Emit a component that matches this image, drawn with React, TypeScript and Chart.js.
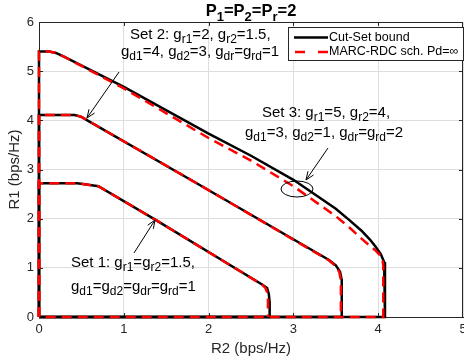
import React, { useEffect, useRef } from 'react';
import { Chart, registerables } from 'chart.js';

Chart.register(...registerables);

const FONT = "'Liberation Sans', Arial, Helvetica, sans-serif";
const INK = '#262626';

// Axis ranges / ticks
const xMin = 0;
const xMax = 5;
const yMin = 0;
const yMax = 6;

// Set 1 (g_r1=g_r2=1.5, g_d1=g_d2=g_dr=g_rd=1)
const set1CutR2 = [0, 0, 0.45, 0.58, 0.7, 1.38, 2.64, 2.69, 2.71, 2.72, 2.72, 0];
const set1CutR1 = [0, 2.72, 2.72, 2.69, 2.66, 1.97, 0.65, 0.59, 0.47, 0.3, 0, 0];
const set1MarcR2 = [0, 0, 0.45, 0.58, 0.7, 1.38, 2.63, 2.67, 2.69, 2.7, 2.7];
const set1MarcR1 = [0, 2.72, 2.72, 2.69, 2.66, 1.97, 0.66, 0.59, 0.5, 0.4, 0];

// Set 2 (g_r1=2, g_r2=1.5, g_d1=4, g_d2=3, g_dr=g_rd=1)
const set2CutR2 = [0, 0, 0.42, 0.5, 0.58, 1.89, 3.42, 3.5, 3.55, 3.57, 3.57, 0];
const set2CutR1 = [0, 4.11, 4.11, 4.07, 3.99, 2.69, 1.16, 1.05, 0.92, 0.75, 0, 0];
const set2MarcR2 = [0, 0, 0.42, 0.5, 0.58, 1.89, 3.42, 3.49, 3.54, 3.56, 3.56];
const set2MarcR1 = [0, 4.11, 4.11, 4.07, 3.99, 2.69, 1.15, 1.05, 0.92, 0.75, 0];

// Set 3 (g_r1=5, g_r2=4, g_d1=3, g_d2=1, g_dr=g_rd=2)
const set3CutR2 = [0, 0, 0.12, 0.2, 0.3, 1, 2, 2.5, 3, 3.5, 3.66, 3.8, 3.9, 3.97, 4.03, 4.07, 4.08, 4.08, 0];
const set3CutR1 = [0, 5.4, 5.4, 5.37, 5.29, 4.68, 3.73, 3.28, 2.79, 2.2, 1.97, 1.76, 1.58, 1.43, 1.28, 1.12, 1.0, 0, 0];
const set3MarcR2 = [0, 0, 0.12, 0.2, 0.3, 1, 2, 2.5, 3, 3.5, 3.66, 3.8, 3.9, 3.97, 4.02, 4.05, 4.06, 4.06, 0];
const set3MarcR1 = [0, 5.4, 5.4, 5.37, 5.29, 4.65, 3.64, 3.18, 2.66, 2.05, 1.82, 1.6, 1.45, 1.35, 1.26, 1.17, 1.05, 0, 0];

const titleText: [string, boolean][] = [['P', false], ['1', true], ['=P', false], ['2', true], ['=P', false], ['r', true], ['=2', false]];
const xLabel = 'R2 (bps/Hz)';
const yLabel = 'R1 (bps/Hz)';
const legendLabels = ['Cut-Set bound', 'MARC-RDC sch. Pd=\u221E'];

const set1Line1: [string, boolean][] = [['Set 1: g', false], ['r1', true], ['=g', false], ['r2', true], ['=1.5,', false]];
const set1Line2: [string, boolean][] = [['g', false], ['d1', true], ['=g', false], ['d2', true], ['=g', false], ['dr', true], ['=g', false], ['rd', true], ['=1', false]];
const set2Line1: [string, boolean][] = [['Set 2: g', false], ['r1', true], ['=2, g', false], ['r2', true], ['=1.5,', false]];
const set2Line2: [string, boolean][] = [['g', false], ['d1', true], ['=4, g', false], ['d2', true], ['=3, g', false], ['dr', true], ['=g', false], ['rd', true], ['=1', false]];
const set3Line1: [string, boolean][] = [['Set 3: g', false], ['r1', true], ['=5, g', false], ['r2', true], ['=4,', false]];
const set3Line2: [string, boolean][] = [['g', false], ['d1', true], ['=3, g', false], ['d2', true], ['=1, g', false], ['dr', true], ['=g', false], ['rd', true], ['=2', false]];

function pts(xs: number[], ys: number[]) {
  return xs.map((x, i) => ({ x, y: ys[i] }));
}

function drawRich(
  ctx: CanvasRenderingContext2D,
  segs: [string, boolean][],
  x: number,
  y: number,
  size: number,
  subSize: number,
  bold: boolean,
  align: 'left' | 'center',
) {
  const main = `${bold ? 'bold ' : ''}${size}px ${FONT}`;
  const sub = `${bold ? 'bold ' : ''}${subSize}px ${FONT}`;
  let w = 0;
  for (const [t, s] of segs) {
    ctx.font = s ? sub : main;
    w += ctx.measureText(t).width;
  }
  let cx = align === 'center' ? x - w / 2 : x;
  ctx.textAlign = 'left';
  ctx.textBaseline = 'alphabetic';
  for (const [t, s] of segs) {
    ctx.font = s ? sub : main;
    ctx.fillText(t, cx, s ? y + size * 0.28 : y);
    cx += ctx.measureText(t).width;
  }
}

function arrow(ctx: CanvasRenderingContext2D, x1: number, y1: number, x2: number, y2: number) {
  ctx.beginPath();
  ctx.moveTo(x1, y1);
  ctx.lineTo(x2, y2);
  ctx.stroke();
  const a = Math.atan2(y2 - y1, x2 - x1);
  const L = 9;
  const s = 0.38;
  ctx.beginPath();
  ctx.moveTo(x2 - L * Math.cos(a - s), y2 - L * Math.sin(a - s));
  ctx.lineTo(x2, y2);
  ctx.lineTo(x2 - L * Math.cos(a + s), y2 - L * Math.sin(a + s));
  ctx.stroke();
}

const framePlugin = {
  id: 'frame',
  beforeDatasetsDraw(chart: any) {
    const { ctx, chartArea: a } = chart;
    const xs = chart.scales.x;
    const ys = chart.scales.y;
    ctx.save();
    ctx.strokeStyle = INK;
    ctx.lineWidth = 1;
    ctx.beginPath();
    ctx.moveTo(a.left, a.top + 0.5);
    ctx.lineTo(a.right, a.top + 0.5);
    ctx.moveTo(a.right - 0.5, a.top);
    ctx.lineTo(a.right - 0.5, a.bottom);
    for (let v = 1; v < xMax; v++) {
      const px = Math.round(xs.getPixelForValue(v)) + 0.5;
      ctx.moveTo(px, a.bottom);
      ctx.lineTo(px, a.bottom - 4);
      ctx.moveTo(px, a.top);
      ctx.lineTo(px, a.top + 4);
    }
    for (let v = 1; v < yMax; v++) {
      const py = Math.round(ys.getPixelForValue(v)) + 0.5;
      ctx.moveTo(a.left, py);
      ctx.lineTo(a.left + 4, py);
      ctx.moveTo(a.right, py);
      ctx.lineTo(a.right - 4, py);
    }
    ctx.stroke();
    ctx.restore();
  },
  afterDatasetsDraw(chart: any) {
    const { ctx } = chart;
    ctx.save();
    ctx.fillStyle = '#000';
    ctx.strokeStyle = '#000';
    ctx.lineWidth = 1;
    // title
    drawRich(ctx, titleText, 251, 16, 16.5, 13, true, 'center');
    // annotations
    drawRich(ctx, set2Line1, 130, 39, 15, 12, false, 'left');
    drawRich(ctx, set2Line2, 121, 56, 15, 12, false, 'left');
    drawRich(ctx, set3Line1, 262, 117, 15, 12, false, 'left');
    drawRich(ctx, set3Line2, 245, 137, 15, 12, false, 'left');
    drawRich(ctx, set1Line1, 71, 267, 15, 12, false, 'left');
    drawRich(ctx, set1Line2, 71, 291, 15, 12, false, 'left');
    arrow(ctx, 119, 72, 87, 118);
    arrow(ctx, 328, 148, 306, 180);
    arrow(ctx, 134, 253, 155, 220);
    ctx.beginPath();
    ctx.ellipse(297, 189, 16, 8, 0, 0, Math.PI * 2);
    ctx.stroke();
    // legend
    ctx.fillStyle = '#fff';
    ctx.fillRect(288.5, 27.5, 175, 33);
    ctx.strokeStyle = INK;
    ctx.strokeRect(288.5, 27.5, 175, 33);
    ctx.lineWidth = 2.5;
    ctx.strokeStyle = '#000';
    ctx.beginPath();
    ctx.moveTo(294, 37.5);
    ctx.lineTo(328, 37.5);
    ctx.stroke();
    ctx.strokeStyle = '#ff0000';
    ctx.setLineDash([10, 13]);
    ctx.beginPath();
    ctx.moveTo(295, 52);
    ctx.lineTo(328, 52);
    ctx.stroke();
    ctx.setLineDash([]);
    ctx.fillStyle = '#000';
    ctx.font = `12.5px ${FONT}`;
    ctx.textAlign = 'left';
    ctx.textBaseline = 'middle';
    ctx.fillText(legendLabels[0], 329, 38);
    ctx.fillText(legendLabels[1], 329, 52);
    ctx.restore();
  },
};

export default function App() {
  const ref = useRef<HTMLCanvasElement>(null);
  useEffect(() => {
    if (!ref.current) return;
    document.body.style.margin = '0';
    const black = (data: { x: number; y: number }[]) => ({
      data,
      borderColor: '#000000',
      borderWidth: 2.5,
      pointRadius: 0,
      fill: false,
      tension: 0,
      clip: 6,
      order: 2,
    });
    const red = (data: { x: number; y: number }[]) => ({
      data,
      borderColor: '#ff0000',
      borderWidth: 2.5,
      borderDash: [10, 6],
      pointRadius: 0,
      fill: false,
      tension: 0,
      clip: 6,
      order: 1,
    });
    const chart = new Chart(ref.current, {
      type: 'line',
      data: {
        datasets: [
          black(pts(set1CutR2, set1CutR1)),
          black(pts(set2CutR2, set2CutR1)),
          black(pts(set3CutR2, set3CutR1)),
          red(pts(set1MarcR2, set1MarcR1)),
          red(pts(set2MarcR2, set2MarcR1)),
          red(pts(set3MarcR2, set3MarcR1)),
        ] as any,
      },
      options: {
        animation: false,
        responsive: false,
        layout: { padding: { top: 22, left: 0, right: 1, bottom: 0 } },
        plugins: { legend: { display: false }, tooltip: { enabled: false }, title: { display: false } },
        scales: {
          x: {
            type: 'linear',
            min: xMin,
            max: xMax,
            ticks: { stepSize: 1, color: INK, font: { family: FONT, size: 13 }, padding: 5, maxRotation: 0, autoSkip: false },
            grid: { color: '#dedede', drawTicks: false },
            border: { color: INK, width: 1 },
            title: { display: true, text: xLabel, color: INK, font: { family: FONT, size: 15 }, padding: { top: 0, bottom: 4 } },
            afterFit: (s: any) => {
              s.height = 45;
              s.paddingLeft = 0;
              s.paddingRight = 0;
            },
          },
          y: {
            type: 'linear',
            min: yMin,
            max: yMax,
            ticks: { stepSize: 1, color: INK, font: { family: FONT, size: 13 }, padding: 5 },
            grid: { color: '#dedede', drawTicks: false },
            border: { color: INK, width: 1 },
            title: { display: true, text: yLabel, color: INK, font: { family: FONT, size: 15 }, padding: { top: 6, bottom: 0 } },
            afterFit: (s: any) => {
              s.width = 39;
              s.paddingTop = 0;
              s.paddingBottom = 0;
            },
          },
        },
      } as any,
      plugins: [framePlugin],
    });
    return () => chart.destroy();
  }, []);
  return (
    <div style={{ position: 'absolute', left: 0, top: 0, width: 464, height: 362, background: '#fff' }}>
      <canvas ref={ref} width={464} height={362} style={{ display: 'block', width: 464, height: 362 }} />
    </div>
  );
}
